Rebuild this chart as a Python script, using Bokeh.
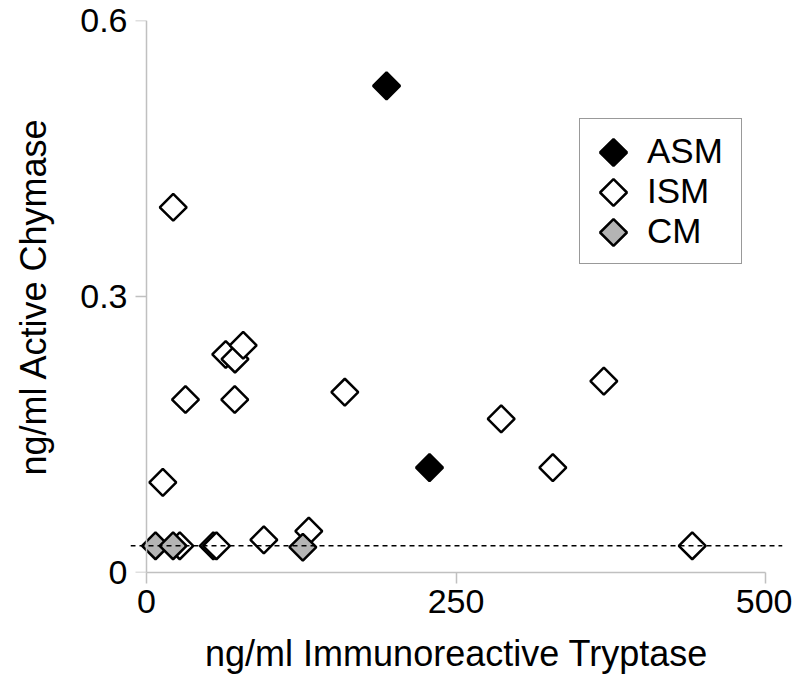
import numpy as np
from bokeh.plotting import figure
from bokeh.models import (FixedTicker, NumeralTickFormatter, Span, Legend, LegendItem,
                          Range1d, LinearAxis)
from bokeh.embed import file_html
from bokeh.resources import INLINE

# ---- data ----
asm_x = [193.9, 228.6]
asm_y = [0.529, 0.114]

ism_x = [21.6, 13.2, 31.5, 71.3, 64.0, 71.5, 78.1, 160.2, 286.5, 328.2, 369.4,
         440.8, 26.9, 54.0, 56.5, 94.8, 131.1]
ism_y = [0.397, 0.098, 0.188, 0.188, 0.237, 0.232, 0.247, 0.196, 0.167, 0.114, 0.208,
         0.029, 0.029, 0.029, 0.029, 0.0355, 0.045]

cm_x = [7.3, 21.5, 126.3]
cm_y = [0.029, 0.029, 0.0275]

threshold = 0.029
x_ticks = [0, 250, 500]
y_ticks = [0, 0.3, 0.6]
series_names = ["ASM", "ISM", "CM"]
series_fill = ["black", "white", "#b4b4b4"]

FONT = "Liberation Sans"
X0, X1 = -12.9, 513.7
Y0, Y1 = 0.0, 0.6
FW, FH = 652, 552

p = figure(frame_width=FW, frame_height=FH,
           x_range=Range1d(X0, X1), y_range=Range1d(Y0, Y1),
           output_backend="svg", toolbar_location=None,
           min_border_left=130, min_border_right=10, min_border_top=20,
           min_border_bottom=116)
p.grid.visible = False
p.outline_line_color = None
p.background_fill_color = "white"
p.border_fill_color = "white"

# x axis (at frame bottom, y = 0)
xa = p.xaxis[0]
xa.ticker = FixedTicker(ticks=x_ticks)
xa.bounds = (0, 500)
xa.axis_label = "ng/ml Immunoreactive Tryptase"

# y axis: labels at frame left, line+ticks drawn at x = 0 by a second axis
ya = p.yaxis[0]
ya.ticker = FixedTicker(ticks=y_ticks)
ya.formatter = NumeralTickFormatter(format="0.[0]")
ya.axis_label = "ng/ml Active Chymase"
ya.axis_line_color = None
ya.major_tick_line_color = None

for ax in (xa, ya):
    ax.axis_line_width = 1.5
    ax.major_tick_line_width = 1.5
    ax.major_tick_in = 0
    ax.minor_tick_line_color = None
    ax.major_label_text_font = FONT
    ax.major_label_text_font_size = "34px"
    ax.major_label_text_color = "black"
    ax.axis_label_text_font = FONT
    ax.axis_label_text_font_size = "36px"
    ax.axis_label_text_font_style = "normal"
    ax.axis_label_text_color = "black"

xa.axis_line_color = "#c0c0c0"
xa.major_tick_line_color = "#c0c0c0"
xa.major_tick_out = 11
xa.major_label_standoff = 6
xa.axis_label_standoff = 17

ya.major_tick_out = 0
ya.major_label_standoff = 3
ya.axis_label_standoff = 23

ya2 = LinearAxis(fixed_location=0, ticker=FixedTicker(ticks=y_ticks), bounds=(0, 0.6),
                 axis_line_color="#c0c0c0", axis_line_width=1.5,
                 major_tick_line_color="#c0c0c0", major_tick_line_width=1.5,
                 major_tick_in=0, major_tick_out=11, minor_tick_line_color=None,
                 major_label_text_font_size="0px", major_label_text_alpha=0,
                 major_label_standoff=0)
p.add_layout(ya2, "left")

p.add_layout(Span(location=threshold, dimension="width", line_color="black",
                  line_dash="5 4", line_width=1.5))

common = dict(marker="square", angle=np.pi / 4, size=19, line_color="black", line_width=2.5)
r_ism = p.scatter(ism_x, ism_y, fill_color=series_fill[1], **common)
r_cm = p.scatter(cm_x, cm_y, fill_color=series_fill[2], **common)
r_asm = p.scatter(asm_x, asm_y, fill_color=series_fill[0], **common)

# ---- legend (text + box from Legend, diamond keys drawn underneath a transparent legend) ----
LEG_X, LEG_Y = 449, 308          # screen px from frame bottom-left
PAD, GW, ROW, STAND, LW = 12, 44, 40, 11, 82
dummies = [p.scatter([], [], marker="square", size=1, fill_alpha=0, line_alpha=0)
           for _ in series_names]
legend = Legend(items=[LegendItem(label=n, renderers=[d]) for n, d in zip(series_names, dummies)],
                location=(LEG_X, LEG_Y), orientation="vertical")
legend.border_line_color = "#333333"
legend.border_line_width = 1.5
legend.background_fill_alpha = 0
legend.padding = PAD
legend.margin = 0
legend.glyph_width = GW
legend.glyph_height = ROW
legend.label_height = ROW
legend.spacing = 0
legend.label_standoff = STAND
legend.label_width = LW
legend.label_text_font = FONT
legend.label_text_font_size = "35px"
legend.label_text_color = "black"
legend.label_text_baseline = "middle"
p.add_layout(legend)

n = len(series_names)
leg_h = 2 * PAD + n * ROW
key_sx = LEG_X + PAD + GW / 2
key_sy = [LEG_Y + leg_h - PAD - ROW / 2 - i * ROW for i in range(n)]
key_x = [X0 + key_sx * (X1 - X0) / FW] * n
key_y = [Y0 + s * (Y1 - Y0) / FH for s in key_sy]
p.scatter(key_x, key_y, fill_color=series_fill, **common)

open("out.html", "w").write(file_html(p, INLINE))
